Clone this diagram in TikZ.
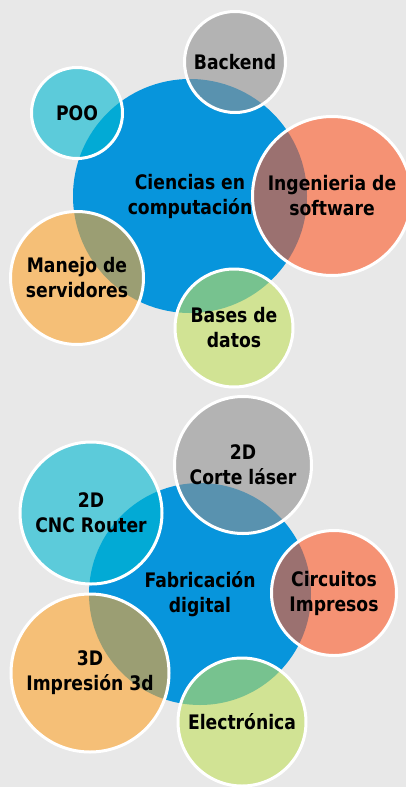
\documentclass[tikz,border=0pt]{standalone}
\usepackage{fontspec}
\newfontfamily\lbl{DejaVu Sans}[FakeStretch=0.86]
\definecolor{bg}{RGB}{232,232,232}
\definecolor{cblue}{RGB}{7,149,220}
\definecolor{cgray}{RGB}{145,145,145}
\definecolor{ccyan}{RGB}{0,184,209}
\definecolor{cred}{RGB}{254,89,40}
\definecolor{corange}{RGB}{254,164,45}
\definecolor{cgreen}{RGB}{195,224,92}
\tikzset{
  lab/.style={font=\lbl\bfseries\fontsize{20}{25}\selectfont, align=center, text=black, text opacity=1},
  hub/.style={lab, circle, inner sep=0pt, fill=cblue, minimum size=#1},
  sat/.style={lab, circle, inner sep=0pt, fill opacity=0.6, draw=white, draw opacity=1, line width=3pt}
}
\begin{document}
\begin{tikzpicture}[x=1pt,y=-1pt]
\fill[bg] (0,0) rectangle (406,787);
\useasboundingbox (0,0) rectangle (406,787);
% top cluster
\node[hub=234pt] (c1) at (190,196) {Ciencias en\\computación};
\node[sat, fill=cgray, minimum size=101pt] (backend) at (235,62) {Backend};
\node[sat, fill=ccyan, minimum size=91pt] (poo) at (77,113) {POO};
\node[sat, fill=cred, minimum size=159pt] (ing) at (332,196) {Ingenieria de\\software};
\node[sat, fill=corange, minimum size=133pt] (man) at (77,278) {Manejo de\\servidores};
\node[sat, fill=cgreen, minimum size=118pt] (bas) at (234,328) {Bases de\\datos};
% bottom cluster
\node[hub=222pt] (c2) at (200,594) {Fabricación\\digital};
\node[sat, fill=cgray, minimum size=137pt] (corte) at (243,465) {2D\\Corte láser};
\node[sat, fill=ccyan, minimum size=142pt] (cnc) at (91,513) {2D\\CNC Router};
\node[sat, fill=cred, minimum size=125pt] (circ) at (334,593) {Circuitos\\Impresos};
\node[sat, fill=corange, minimum size=158pt] (imp) at (90,673) {3D\\Impresión 3d};
\node[sat, fill=cgreen, minimum size=128pt] (elec) at (242,722) {Electrónica};
\end{tikzpicture}
\end{document}
